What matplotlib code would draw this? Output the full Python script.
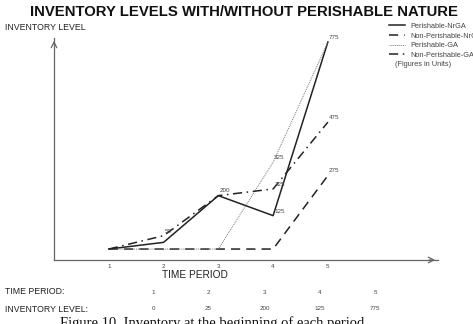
import matplotlib.pyplot as plt
import numpy as np

# data
periods = [1, 2, 3, 4, 5]
perishable_nrga = [0, 25, 200, 125, 775]
nonperishable_nrga = [0, 0, 0, 0, 275]
perishable_ga = [0, 0, 0, 325, 775]
nonperishable_ga = [0, 50, 200, 225, 475]
inventory_level = [0, 25, 200, 125, 775]

W, H = 473, 324
fig = plt.figure(figsize=(W / 100, H / 100), dpi=100)
plt.rcParams['font.family'] = ['Liberation Sans', 'DejaVu Sans']

def fx(px):
    return px / W

def fy(py):
    return 1 - py / H

ax = fig.add_axes([fx(54), fy(260), fx(384), 222 / H])
ax.set_xlim(0, 7.01)
ax.set_ylim(-41, 790)

ax.plot(periods, perishable_nrga, color='#222222', lw=1.1, ls='-', label='Perishable-NrGA')
ax.plot(periods, nonperishable_nrga, color='#222222', lw=1.1, ls=(0, (6, 4)), label='Non-Perishable-NrGA')
ax.plot(periods, perishable_ga, color='#777777', lw=0.7, ls=(0, (1, 1)), label='Perishable-GA')
ax.plot(periods, nonperishable_ga, color='#222222', lw=1.1, ls=(0, (6, 3, 1, 3)), label='Non-Perishable-GA')

# point labels
pts = [(2, 50, '50'), (3, 200, '200'), (4, 325, '325'), (4, 225, '225'),
       (4, 125, '125'), (5, 775, '775'), (5, 475, '475'), (5, 275, '275')]
for x, y, s in pts:
    ax.text(x + 0.02, y + 8, s, fontsize=4.5, color='#444444', ha='left', va='bottom')

for s in ['top', 'right']:
    ax.spines[s].set_visible(False)
for s in ['left', 'bottom']:
    ax.spines[s].set_color('#666666')
    ax.spines[s].set_linewidth(0.9)
ax.set_xticks(periods)
ax.set_xticklabels([str(p) for p in periods], fontsize=4.5, color='#444444')
ax.tick_params(axis='x', length=0, pad=3)
ax.set_yticks([])

# axis arrows
ax.annotate('', xy=(1.0, 0), xytext=(0.97, 0), xycoords='axes fraction',
            arrowprops=dict(arrowstyle='->', color='#666666', lw=0.9))
ax.annotate('', xy=(0, 1.0), xytext=(0, 0.96), xycoords='axes fraction',
            arrowprops=dict(arrowstyle='->', color='#666666', lw=0.9))

ax.legend(loc='upper left', bbox_to_anchor=(fx(385), fy(19)), bbox_transform=fig.transFigure,
          frameon=False, fontsize=5.3, handlelength=2.2, labelspacing=0.35, borderpad=0,
          handletextpad=0.8, labelcolor='#444444')
fig.text(fx(395), fy(65), '(Figures in Units)', fontsize=5.3, color='#444444', va='center')

fig.text(fx(244), fy(12), 'INVENTORY LEVELS WITH/WITHOUT PERISHABLE NATURE',
         fontsize=10.7, fontweight='bold', ha='center', va='center', color='#111111')
fig.text(fx(5), fy(28), 'INVENTORY LEVEL', fontsize=6.3, va='center', color='#222222')
fig.text(fx(195), fy(275), 'TIME PERIOD', fontsize=7.3, ha='center', va='center', color='#222222')

fig.text(fx(5), fy(292), 'TIME PERIOD:', fontsize=6.3, va='center', color='#222222')
fig.text(fx(5), fy(309), 'INVENTORY LEVEL:', fontsize=6.3, va='center', color='#222222')
col_x = [153, 208, 265, 320, 375]
for cx, p, v in zip(col_x, periods, inventory_level):
    fig.text(fx(cx), fy(292), str(p), fontsize=4.5, ha='center', va='center', color='#444444')
    fig.text(fx(cx), fy(309), str(v), fontsize=4.5, ha='center', va='center', color='#444444')

fig.text(fx(60), fy(316), 'Figure 10. Inventory at the beginning of each period',
         fontsize=10.5, family='Liberation Serif', va='top', color='#111111')

fig.savefig('out.png', dpi=100)
